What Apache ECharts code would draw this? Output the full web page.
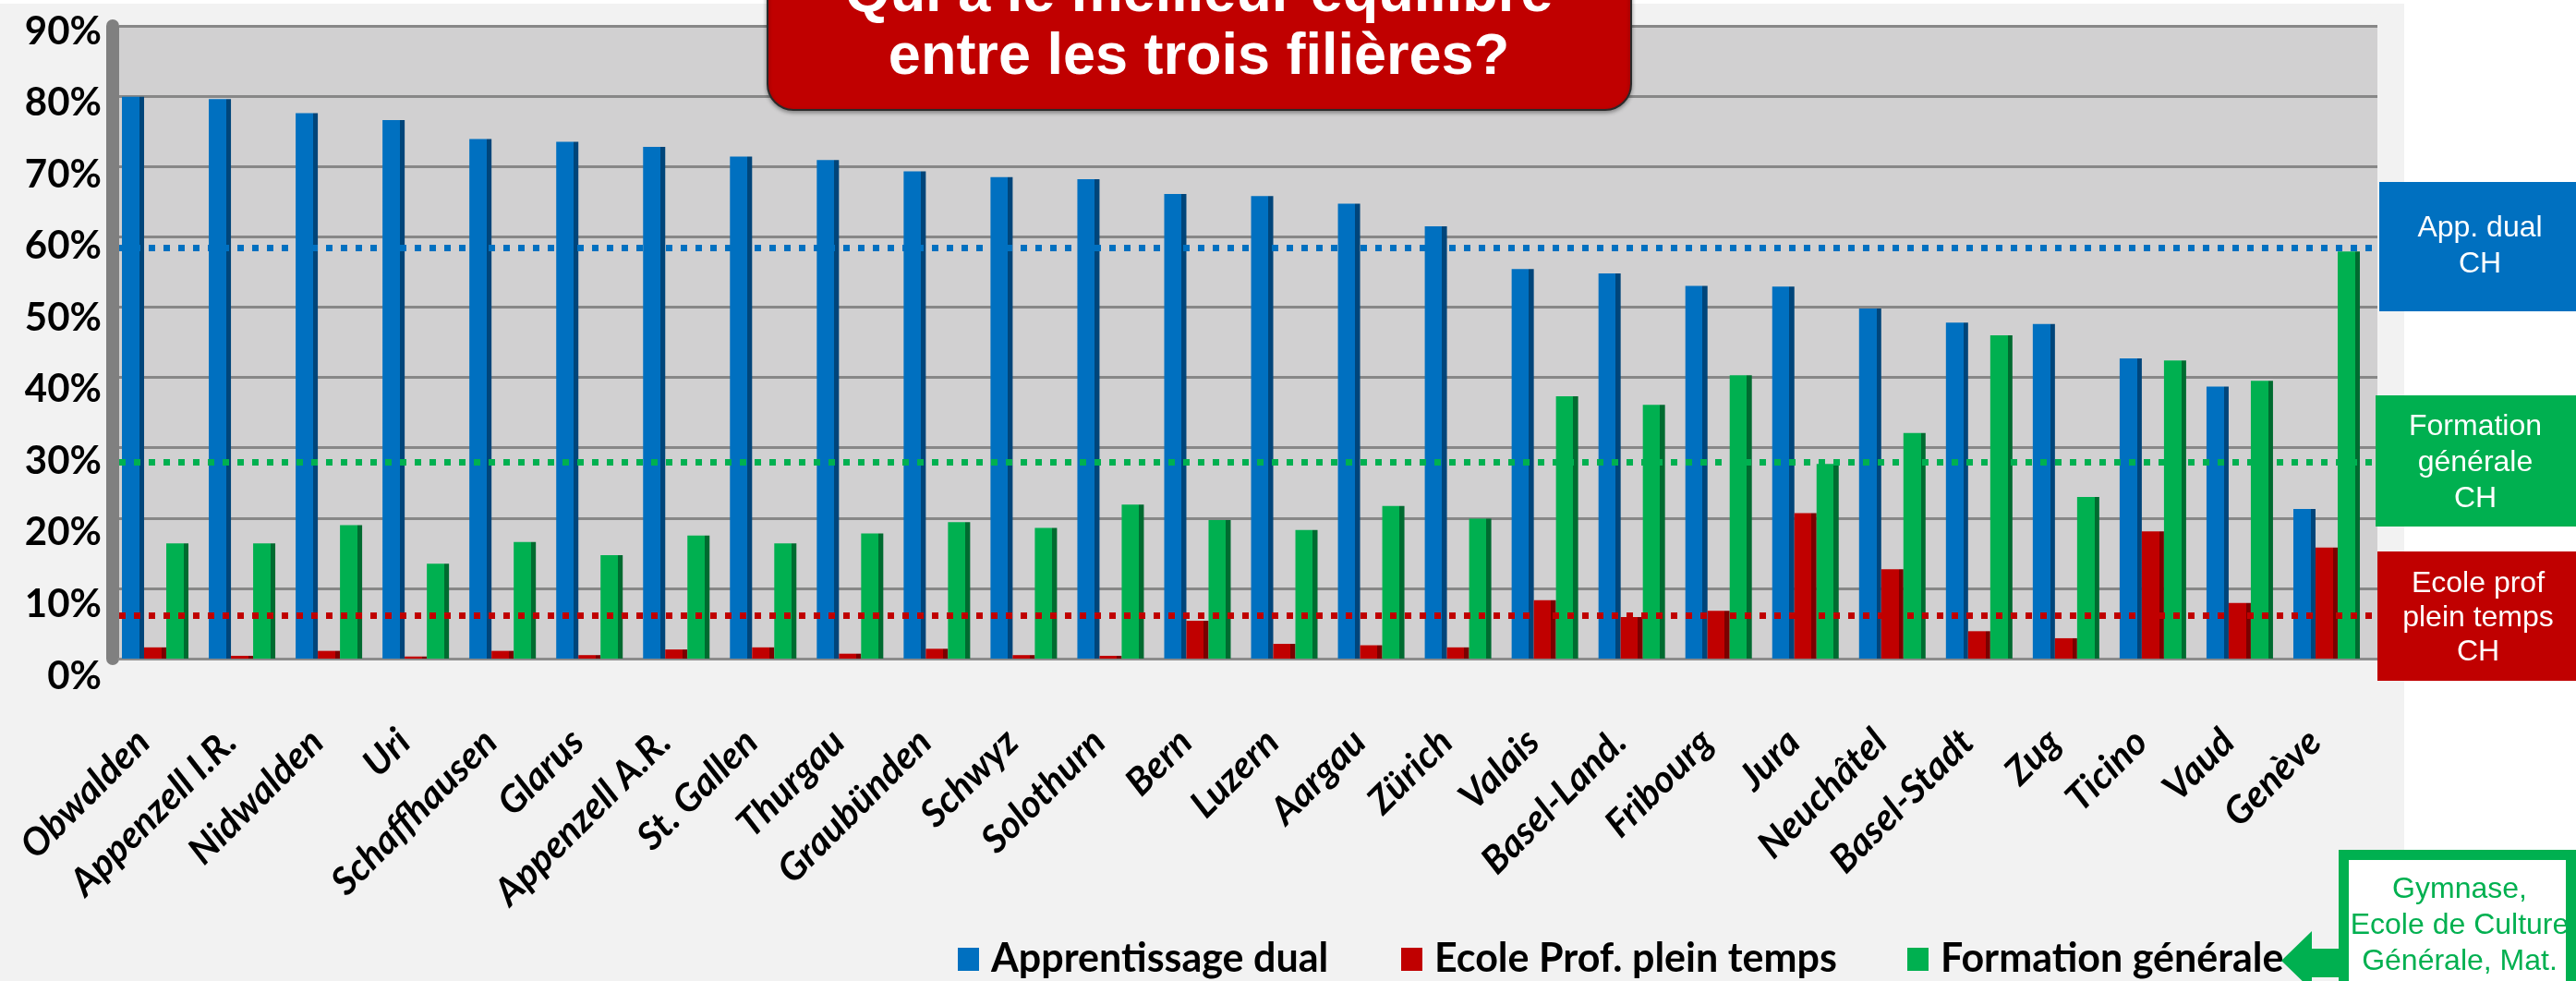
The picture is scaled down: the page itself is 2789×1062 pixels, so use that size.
<!DOCTYPE html>
<html>
<head>
<meta charset="utf-8">
<script src="https://cdn.jsdelivr.net/npm/echarts@6/dist/echarts.min.js"></script>
<style>
html, body { margin: 0; padding: 0; background: #fff; }
#main { width: 2789px; height: 1062px; }
</style>
</head>
<body>
<div id="main"></div>
<script>
var myChart = echarts.init(document.getElementById('main'));

// Cantons, sorted by share of dual apprenticeship
const cantons = ['Obwalden', 'Appenzell I.R.', 'Nidwalden', 'Uri', 'Schaffhausen', 'Glarus', 'Appenzell A.R.',
  'St. Gallen', 'Thurgau', 'Graubünden', 'Schwyz', 'Solothurn', 'Bern', 'Luzern', 'Aargau', 'Zürich', 'Valais',
  'Basel-Land.', 'Fribourg', 'Jura', 'Neuchâtel', 'Basel-Stadt', 'Zug', 'Ticino', 'Vaud', 'Genève'];

// Shares in %
const dual = [79.9, 79.6, 77.6, 76.6, 73.9, 73.5, 72.8, 71.4, 70.9, 69.3, 68.5, 68.2, 66.1,
  65.8, 64.7, 61.5, 55.4, 54.8, 53.0, 52.9, 49.8, 47.8, 47.6, 42.7, 38.7, 21.3];
const ecolePro = [1.6, 0.4, 1.1, 0.3, 1.1, 0.5, 1.3, 1.6, 0.7, 1.4, 0.5, 0.4, 5.4,
  2.1, 1.9, 1.6, 8.3, 5.9, 6.8, 20.7, 12.7, 3.9, 2.9, 18.1, 7.9, 15.8];
const formationGen = [16.4, 16.4, 19.0, 13.5, 16.6, 14.7, 17.5, 16.4, 17.8, 19.4, 18.6, 21.9, 19.7,
  18.3, 21.7, 19.9, 37.3, 36.1, 40.3, 27.7, 32.1, 46.0, 23.0, 42.4, 39.5, 57.9];

// Swiss averages (dotted lines): dual, école prof, formation générale
const moyennesCH = [58.5, 6.1, 28.0];

const seriesNames = ['Apprentissage dual', 'Ecole Prof. plein temps', 'Formation générale'];
const colors = ['#0070c0', '#c00000', '#00b050'];
const sideColors = ['#00457a', '#7a0000', '#006b30'];

function barFill(i) {
  // flat front face + darker right side, a hint of the 3D look
  return new echarts.graphic.LinearGradient(0, 0, 1, 0, [
    { offset: 0, color: colors[i] },
    { offset: 0.78, color: colors[i] },
    { offset: 0.78, color: sideColors[i] },
    { offset: 1, color: sideColors[i] }
  ]);
}

const values = [dual, ecolePro, formationGen];

const barSeries = values.map((d, i) => ({
  name: seriesNames[i],
  type: 'bar',
  xAxisIndex: 1,
  yAxisIndex: 1,
  data: d,
  barWidth: 24,
  barGap: '0%',
  itemStyle: { color: barFill(i) },
  z: 3
}));

const legendLefts = [1032, 1512, 2060];

var option = {
  backgroundColor: '#f2f2f2',
  animation: false,
  grid: [
    // back wall with gridlines
    { left: 129, top: 28, width: 2445, height: 685, show: true, backgroundColor: '#d1d0d1', borderWidth: 0 },
    // bars
    { left: 121, top: 28, width: 2445, height: 685 },
    // y labels (sit a bit lower, like the perspective axis)
    { left: 121, top: 34, width: 10, height: 698 }
  ],
  xAxis: [
    {
      gridIndex: 0, type: 'category', data: cantons,
      axisLine: { show: true, lineStyle: { color: '#8c8c8c', width: 3 } },
      axisTick: { show: false }, axisLabel: { show: false }
    },
    {
      gridIndex: 1, type: 'category', data: cantons,
      axisLine: { show: false }, axisTick: { show: false },
      axisLabel: {
        interval: 0,
        rotate: 45,
        margin: 71,
        padding: [0, 18, 0, 0],
        color: '#000',
        fontFamily: 'Lato',
        fontWeight: 'bold',
        fontStyle: 'italic',
        fontSize: 41
      }
    },
    { gridIndex: 2, type: 'value', show: false }
  ],
  yAxis: [
    {
      gridIndex: 0, type: 'value', min: 0, max: 90, interval: 10,
      offset: 7,
      axisLine: { show: true, lineStyle: { color: '#808080', width: 14 } },
      axisTick: { show: false }, axisLabel: { show: false },
      splitLine: { show: true, lineStyle: { color: '#878787', width: 3 } }
    },
    { gridIndex: 1, type: 'value', min: 0, max: 90, interval: 10, show: false },
    {
      gridIndex: 2, type: 'value', min: 0, max: 90, interval: 10,
      axisLine: { show: false }, axisTick: { show: false }, splitLine: { show: false },
      axisLabel: {
        formatter: '{value}%',
        margin: 11,
        color: '#000',
        fontFamily: 'Lato',
        fontWeight: 'bold',
        fontSize: 42
      }
    }
  ],
  legend: seriesNames.map((n, i) => ({
    left: legendLefts[i],
    top: 1012,
    itemWidth: 23,
    itemHeight: 25,
    icon: 'rect',
    selectedMode: false,
    data: [{ name: n, itemStyle: { color: colors[i] } }],
    textStyle: {
      color: '#000', fontFamily: 'Lato', fontWeight: 'bold', fontSize: 43,
      padding: [0, 0, 0, 8]
    }
  })),
  series: barSeries.concat([
    {
      // carries the dotted CH reference lines on the back wall grid
      type: 'line',
      xAxisIndex: 0,
      yAxisIndex: 0,
      data: cantons.map(() => null),
      z: 6,
      markLine: {
        silent: true,
        symbol: 'none',
        label: { show: false },
        lineStyle: { type: [7, 9], width: 7 },
        data: moyennesCH.map((v, i) => ({ yAxis: v, lineStyle: { color: colors[i], type: [7, 9], width: 7 } }))
      }
    }
  ]),
  graphic: [
    // white margins around the grey slide panel
    { type: 'rect', shape: { x: 2603, y: 0, width: 186, height: 1062 }, style: { fill: '#fff' }, z: -1 },
    { type: 'rect', shape: { x: 0, y: 0, width: 2603, height: 4 }, style: { fill: '#fff' }, z: -1 },

    // title box
    {
      type: 'rect', z: 20,
      shape: { x: 831, y: -60, width: 935, height: 179, r: 28 },
      style: { fill: '#c00000', stroke: '#2a2a2a', lineWidth: 2, shadowBlur: 4, shadowColor: 'rgba(0,0,0,0.35)', shadowOffsetY: 2 }
    },
    {
      type: 'text', z: 21, x: 1298, y: 29,
      style: {
        text: 'Qui a le meilleur équilibre\nentre les trois filières?',
        fill: '#fff', font: 'bold 63px "Liberation Sans", Arial, sans-serif',
        lineHeight: 68, align: 'center', verticalAlign: 'middle'
      }
    },

    // CH boxes on the right
    { type: 'rect', z: 20, shape: { x: 2576, y: 197, width: 220, height: 140 }, style: { fill: '#0070c0' } },
    {
      type: 'text', z: 21, x: 2685, y: 267,
      style: { text: 'App. dual\nCH', fill: '#fff', font: '32px "Liberation Sans", Arial, sans-serif', lineHeight: 39, align: 'center', verticalAlign: 'middle' }
    },
    { type: 'rect', z: 20, shape: { x: 2572, y: 428, width: 224, height: 142 }, style: { fill: '#00b050' } },
    {
      type: 'text', z: 21, x: 2680, y: 501,
      style: { text: 'Formation\ngénérale\nCH', fill: '#fff', font: '32px "Liberation Sans", Arial, sans-serif', lineHeight: 39, align: 'center', verticalAlign: 'middle' }
    },
    { type: 'rect', z: 20, shape: { x: 2574, y: 597, width: 222, height: 140 }, style: { fill: '#c00000' } },
    {
      type: 'text', z: 21, x: 2683, y: 669,
      style: { text: 'Ecole prof\nplein temps\nCH', fill: '#fff', font: '32px "Liberation Sans", Arial, sans-serif', lineHeight: 37, align: 'center', verticalAlign: 'middle' }
    },

    // callout for "Formation générale"
    {
      type: 'rect', z: 20,
      shape: { x: 2537.5, y: 925.5, width: 246, height: 200 },
      style: { fill: '#fff', stroke: '#00b050', lineWidth: 11 }
    },
    {
      type: 'polygon', z: 20,
      shape: { points: [[2470, 1040], [2503, 1008], [2503, 1027], [2536, 1027], [2536, 1058], [2503, 1058], [2503, 1072]] },
      style: { fill: '#00b050' }
    },
    {
      type: 'text', z: 21, x: 2663, y: 1002,
      style: {
        text: 'Gymnase,\nEcole de Culture\nGénérale, Mat.',
        fill: '#00b050', font: '32px "Liberation Sans", Arial, sans-serif',
        lineHeight: 39, align: 'center', verticalAlign: 'middle'
      }
    }
  ]
};

myChart.setOption(option);
</script>
</body>
</html>
